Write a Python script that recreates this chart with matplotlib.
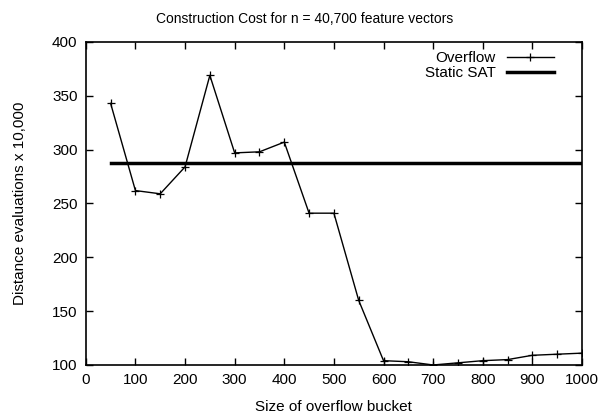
import matplotlib
matplotlib.use("Agg")
import matplotlib.pyplot as plt

plt.rcParams['font.family'] = ['Liberation Sans', 'DejaVu Sans']

bucket_sizes = [50, 100, 150, 200, 250, 300, 350, 400, 450, 500, 550, 600, 650, 700, 750, 800, 850, 900, 950, 1000]
overflow = [343, 262, 259, 284, 369, 297, 298, 307, 241, 241, 160, 104, 103, 100, 102, 104, 105, 109, 110, 111]
static_sat_x = [50, 1000]
static_sat = [288, 288]

fig = plt.figure(figsize=(6, 4.2), dpi=100)
ax = fig.add_axes([0.143, 0.131, 0.827, 0.769])

ax.plot(bucket_sizes, overflow, color='black', linewidth=1.0, marker='+', markersize=6,
        markeredgewidth=0.9, label='Overflow')
ax.plot(static_sat_x, static_sat, color='black', linewidth=2.5, label='Static SAT')

ax.set_xlim(0, 1000)
ax.set_ylim(100, 400)
ax.set_xticks(range(0, 1001, 100))
ax.set_yticks(range(100, 401, 50))
ax.tick_params(direction='in', top=True, right=True, length=5, width=1, labelsize=11, pad=6)
for s in ax.spines.values():
    s.set_linewidth(1.2)

fig.text(0.508, 0.945, 'Construction Cost for n = 40,700 feature vectors', fontsize=10,
         ha='center', va='baseline')
ax.set_xlabel('Size of overflow bucket', fontsize=11, labelpad=9)
ax.set_ylabel('Distance evaluations x 10,000', fontsize=11, labelpad=18)

leg = ax.legend(loc='upper right', bbox_to_anchor=(0.962, 1.0), frameon=False, markerfirst=False,
                fontsize=11, handlelength=3.1, borderaxespad=0.2, labelspacing=0.05,
                handletextpad=0.7)

fig.savefig('out.png', dpi=100)
